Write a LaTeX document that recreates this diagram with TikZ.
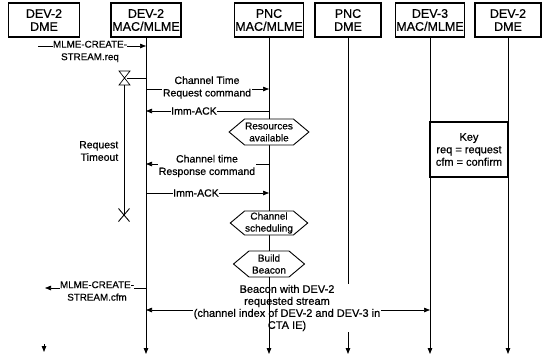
\documentclass[tikz,border=0pt]{standalone}
\usepackage{fontspec}
\setmainfont{Liberation Sans}[FakeBold=0.6]
\usetikzlibrary{arrows.meta,shapes.symbols,calc}
\begin{document}
\begin{tikzpicture}[x=1pt,y=-1pt,
  hdr/.style={draw, line width=1.3pt, minimum height=34pt, align=center, inner sep=1pt,
    font=\fontsize{12.5}{13}\selectfont},
  life/.style={line width=0.8pt, -{Triangle[length=6pt,width=4.5pt]}},
  msg/.style={line width=0.7pt, -{Triangle[length=6pt,width=4.5pt]}},
  plain/.style={line width=0.7pt},
  lbl/.style={fill=white, align=center, inner sep=0.5pt, font=\fontsize{10.5}{12.5}\selectfont},
  caps/.style={lbl, font=\fontsize{9.8}{12.5}\selectfont},
  hexa/.style={draw, fill=white, line width=0.9pt, signal, signal to=east and west,
    signal pointer angle=80, minimum width=71pt, minimum height=26pt, align=center,
    inner sep=0.5pt, font=\fontsize{10}{12}\selectfont}
]
\useasboundingbox (0,0) rectangle (542,359);

% headers
\node[hdr, minimum width=71pt] (hA) at (44,20) {DEV-2\\DME};
\node[hdr, minimum width=70pt] (hB) at (146,20) {DEV-2\\MAC/MLME};
\node[hdr, minimum width=69pt] (hC) at (269,20) {PNC\\MAC/MLME};
\node[hdr, minimum width=66pt] (hD) at (348,20) {PNC\\DME};
\node[hdr, minimum width=69pt] (hE) at (430,20) {DEV-3\\MAC/MLME};
\node[hdr, minimum width=66pt] (hF) at (508,20) {DEV-2\\DME};

% lifeline ends
\coordinate (eB) at (146,354);
\coordinate (eC) at (269,354);
\coordinate (eD) at (348,354);
\coordinate (eE) at (430,354);
\coordinate (eF) at (508,354);
\coordinate (aS) at (44,344);
\coordinate (eA) at (44,352);

\draw[life] (hB) -- (eB);
\draw[life] (hC) -- (eC);
\draw[life] (hD) -- (eD);
\draw[life] (hE) -- (eE);
\draw[life] (hF) -- (eF);
\draw[life] (aS) -- (eA);

% MLME-CREATE-STREAM.req
\coordinate (r1) at (38,46);
\coordinate (r2) at (146,46);
\draw[msg] (r1) -- (r2);
\node[caps] (lreq) at (90,51.5) {MLME-CREATE-\\STREAM.req};

% timer
\coordinate (tm) at (124,78);
\coordinate (tmB) at (146,78);
\coordinate (tmD) at (124,85);
\coordinate (xx) at (124,215);
\draw[plain] (119,71) -- (130,71) -- (119,85) -- (130,85) -- cycle;
\draw[plain] (127,78) -- (tmB);
\draw[plain] (tmD) -- (xx);
\draw[line width=0.9pt] ($(xx)+(-5.5,-6.5)$) -- ($(xx)+(5.5,6.5)$)
  ($(xx)+(-5.5,6.5)$) -- ($(xx)+(5.5,-6.5)$);
\node[lbl, anchor=east, align=right] (ltime) at (119,151) {Request\\Timeout};

% Channel Time Request command
\coordinate (c1) at (146,89);
\coordinate (c2) at (269,89);
\draw[msg] (c1) -- (c2);
\node[lbl] (lctr) at (207,87.5) {Channel Time\\Request command};

% Imm-ACK 1
\coordinate (i1) at (269,111);
\coordinate (i2) at (146,111);
\draw[msg] (i1) -- (i2);
\node[lbl] (lack1) at (194,111) {Imm-ACK};

% Resources available
\node[hexa] (hx1) at (269,132) {Resources\\available};

% Channel time Response command
\coordinate (p1) at (269,164);
\coordinate (p2) at (146,164);
\draw[msg] (p1) -- (p2);
\node[lbl] (lrsp) at (207,166) {Channel time\\Response command};

% Imm-ACK 2
\coordinate (k1) at (146,193);
\coordinate (k2) at (269,193);
\draw[msg] (k1) -- (k2);
\node[lbl] (lack2) at (196,193) {Imm-ACK};

% Channel scheduling / Build Beacon
\node[hexa, minimum height=24pt] (hx2) at (269,223) {Channel\\scheduling};
\node[hexa] (hx3) at (269,264) {Build\\Beacon};

% beacon
\coordinate (b0) at (269,310);
\coordinate (bB) at (146,310);
\coordinate (bE) at (430,310);
\draw[msg] (b0) -- (bB);
\draw[msg] (b0) -- (bE);
\node[lbl, font=\fontsize{11}{12}\selectfont] (lbcn) at (287,308) {Beacon with DEV-2\\requested stream\\(channel index of DEV-2 and DEV-3 in\\CTA IE)};
\draw[line width=0.8pt] (hx3.south) -- (269,345);

% MLME-CREATE-STREAM.cfm
\coordinate (f1) at (146,288);
\coordinate (f2) at (45,288);
\draw[msg] (f1) -- (f2);
\node[caps] (lcfm) at (97,291) {MLME-CREATE-\\STREAM.cfm};

% key
\node[draw, fill=white, line width=1.1pt, minimum width=78pt, minimum height=55pt, align=center,
  inner sep=1pt, font=\fontsize{11}{12.5}\selectfont] (key) at (469,149.5)
  {Key\\req = request\\cfm = confirm};
\end{tikzpicture}
\end{document}
